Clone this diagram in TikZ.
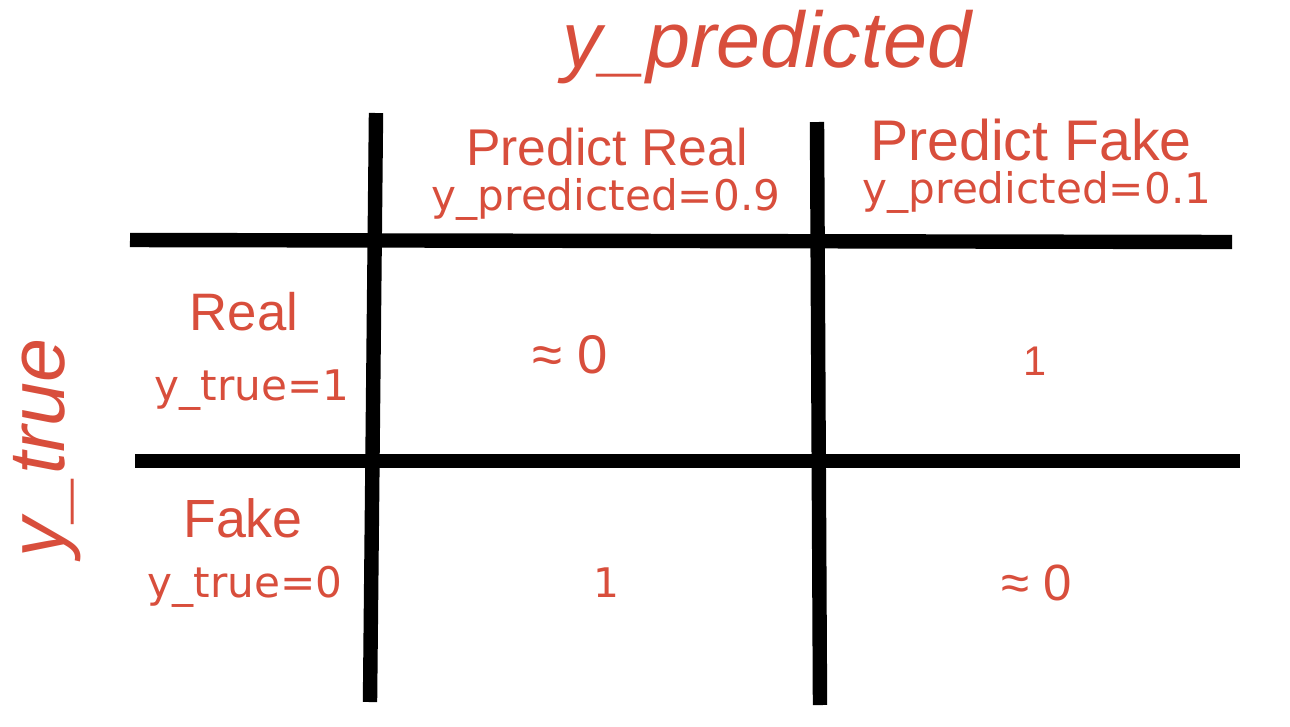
\documentclass[tikz,border=0pt]{standalone}
\usepackage{fontspec}
\setmainfont{Liberation Sans}
\newfontfamily\verd{DejaVu Sans}
\definecolor{lossred}{RGB}{216,78,60}

\begin{document}
\begin{tikzpicture}[
    bar/.style={black, line width=4.1pt},
    txt/.style={text=lossred, inner sep=0pt, anchor=base},
    big/.style={txt, font=\fontsize{#1}{#1}\selectfont},
    small/.style={txt, font=\verd\fontsize{#1}{#1}\selectfont},
    axis/.style={txt, font=\itshape\fontsize{22.5}{27}\selectfont},
    ]
    \useasboundingbox (0,0) rectangle (12.9,7.26);
    % grid lines
    \draw[bar] (3.76,6.13) -- (3.70,0.24);
    \draw[bar] (8.17,6.04) -- (8.20,0.21);
    \draw[bar] (1.30,4.86) -- (12.32,4.84);
    \draw[bar] (1.35,2.65) -- (12.40,2.65);
    % axis titles
    \node[axis] (ypred) at (7.67,6.59) {y\_predicted};
    \node[axis, rotate=90] (ytrue) at (0.64,2.78) {y\_true};
    % column heads
    \node[big=14.7] (predreal) at (6.07,5.61) {Predict Real};
    \node[small=12] (predreal val) at (6.06,5.16) {y\_predicted=0.9};
    \node[big=16.3] (predfake) at (10.31,5.66) {Predict Fake};
    \node[small=12] (predfake val) at (10.37,5.23) {y\_predicted=0.1};
    % row heads
    \node[big=15] (real) at (2.44,3.96) {Real};
    \node[small=12] (real val) at (2.52,3.26) {y\_true=1};
    \node[big=15.3] (fake) at (2.43,1.89) {Fake};
    \node[small=12] (fake val) at (2.45,1.29) {y\_true=0};
    % cells
    \node[big=15.5] (rr) at (5.70,3.53) {≈ 0};
    \node[big=11.8] (rf) at (10.35,3.51) {1};
    \node[small=11.6] (fr) at (6.06,1.29) {1};
    \node[big=14.5] (ff) at (10.37,1.26) {≈ 0};
\end{tikzpicture}
\end{document}
